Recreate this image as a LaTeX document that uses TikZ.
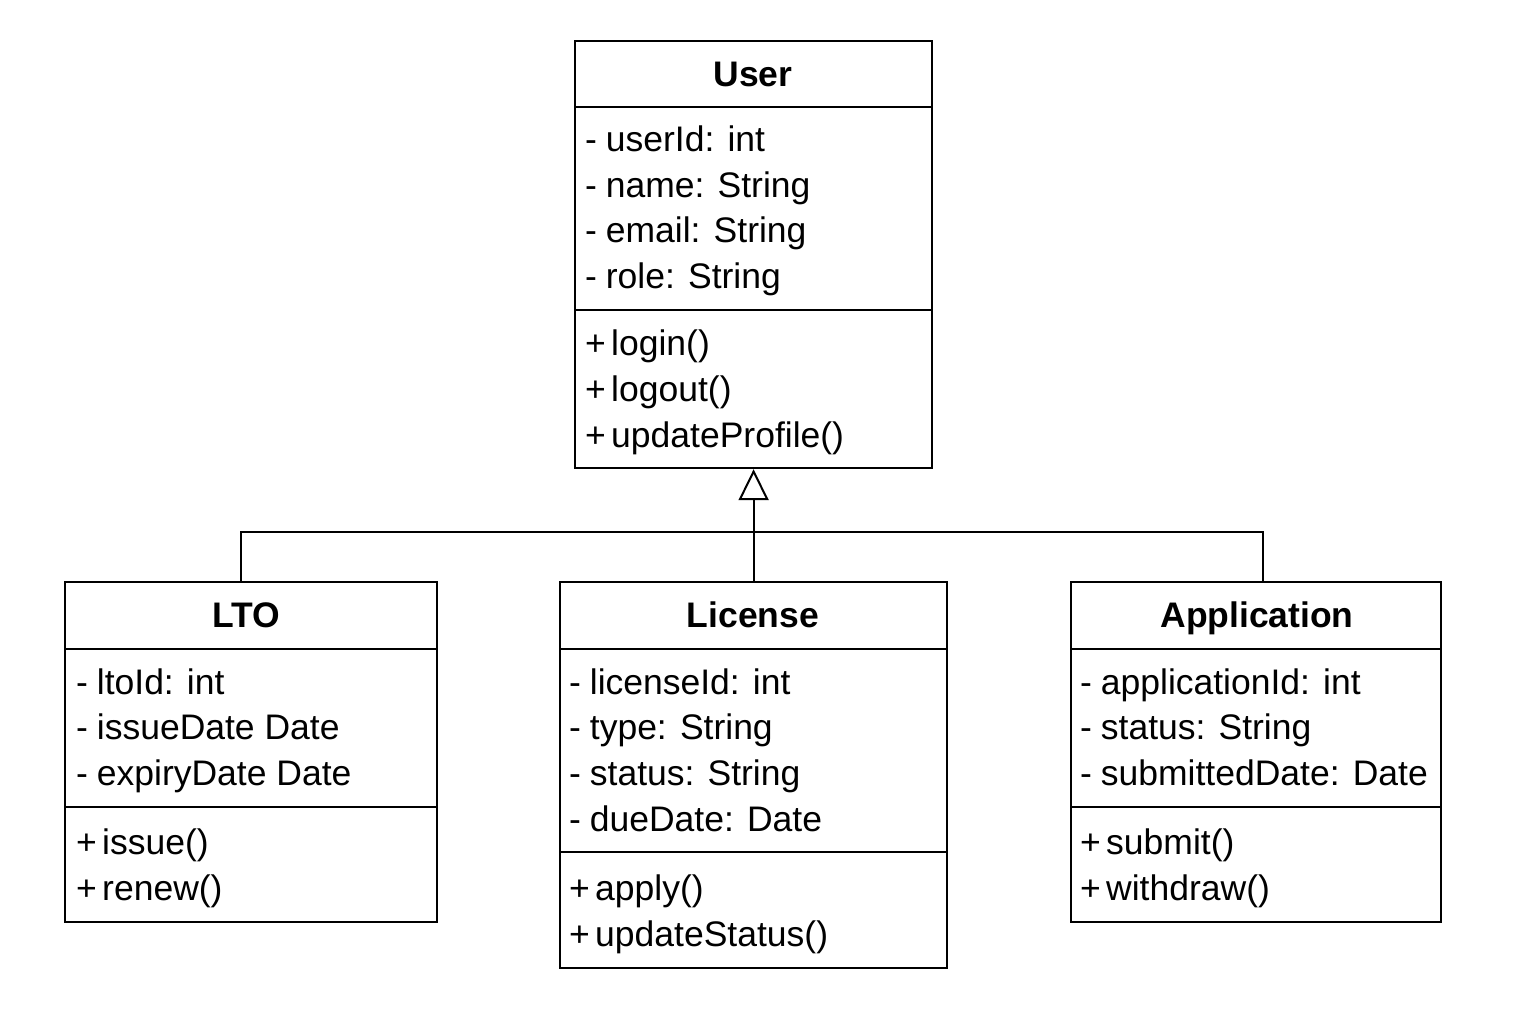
\documentclass[tikz,border=0pt]{standalone}
\usepackage{fontspec}
\setmainfont{Liberation Sans}
\usetikzlibrary{arrows.meta}
\tikzset{
  box/.style={draw, line width=2.2pt, inner sep=0pt, anchor=north west},
  divider/.style={line width=2pt},
  ttl/.style={font=\fontsize{35.5}{42}\selectfont\bfseries, anchor=base, inner sep=0pt},
  item/.style={font=\fontsize{35.5}{42}\selectfont, anchor=base west, inner sep=0pt},
  conn/.style={line width=2.2pt},
}
\newcommand{\mn}{-\hspace{0.25em}}
\newcommand{\pl}{+\hspace{0.15em}}
\begin{document}
\begin{tikzpicture}[x=1pt,y=-1pt]
\useasboundingbox[fill=white] (0,0) rectangle (1536,1024);

% ---------- User ----------
\node[box, minimum width=357pt, minimum height=427pt] (user) at (574,40) {};
\draw[divider] (574,107) -- (931,107);
\draw[divider] (574,310) -- (931,310);
\node[ttl] (userT) at (753,87) {User};
\node[item] (u1) at (585,152) {\mn userId: int};
\node[item] (u2) at (585,198) {\mn name: String};
\node[item] (u3) at (585,243) {\mn email: String};
\node[item] (u4) at (585,289) {\mn role: String};
\node[item] (u5) at (585,355) {\pl login()};
\node[item] (u6) at (585,401) {\pl logout()};
\node[item] (u7) at (585,447) {\pl updateProfile()};

% ---------- LTO ----------
\node[box, minimum width=372pt, minimum height=340pt] (lto) at (64,581) {};
\draw[divider] (64,649) -- (436,649);
\draw[divider] (64,807) -- (436,807);
\node[ttl] (ltoT) at (246,627) {LTO};
\node[item] (l1) at (76,694) {\mn ltoId: int};
\node[item] (l2) at (76,739) {\mn issueDate Date};
\node[item] (l3) at (76,785) {\mn expiryDate Date};
\node[item] (l4) at (76,854) {\pl issue()};
\node[item] (l5) at (76,900) {\pl renew()};

% ---------- License ----------
\node[box, minimum width=387pt, minimum height=386pt] (license) at (559,581) {};
\draw[divider] (559,649) -- (946,649);
\draw[divider] (559,852) -- (946,852);
\node[ttl] (licT) at (753,627) {License};
\node[item] (c1) at (569,694) {\mn licenseId: int};
\node[item] (c2) at (569,739) {\mn type: String};
\node[item] (c3) at (569,785) {\mn status: String};
\node[item] (c4) at (569,831) {\mn dueDate: Date};
\node[item] (c5) at (569,900) {\pl apply()};
\node[item] (c6) at (569,946) {\pl updateStatus()};

% ---------- Application ----------
\node[box, minimum width=370pt, minimum height=340pt] (app) at (1070,581) {};
\draw[divider] (1070,649) -- (1440,649);
\draw[divider] (1070,807) -- (1440,807);
\node[ttl] (appT) at (1257,627) {Application};
\node[item] (a1) at (1080,694) {\mn applicationId: int};
\node[item] (a2) at (1080,739) {\mn status: String};
\node[item] (a3) at (1080,785) {\mn submittedDate: Date};
\node[item] (a4) at (1080,854) {\pl submit()};
\node[item] (a5) at (1080,900) {\pl withdraw()};

% ---------- Generalization ----------
\coordinate (junc) at (752.5,532);
\draw[conn, -{Triangle[open, length=31pt, width=30pt, line width=2pt, fill=white]}]
  (license.north) -- (user.south);
\draw[conn] (lto.north -| 241,0) |- (junc);
\draw[conn] (app.north -| 1263,0) |- (junc);
\end{tikzpicture}
\end{document}
